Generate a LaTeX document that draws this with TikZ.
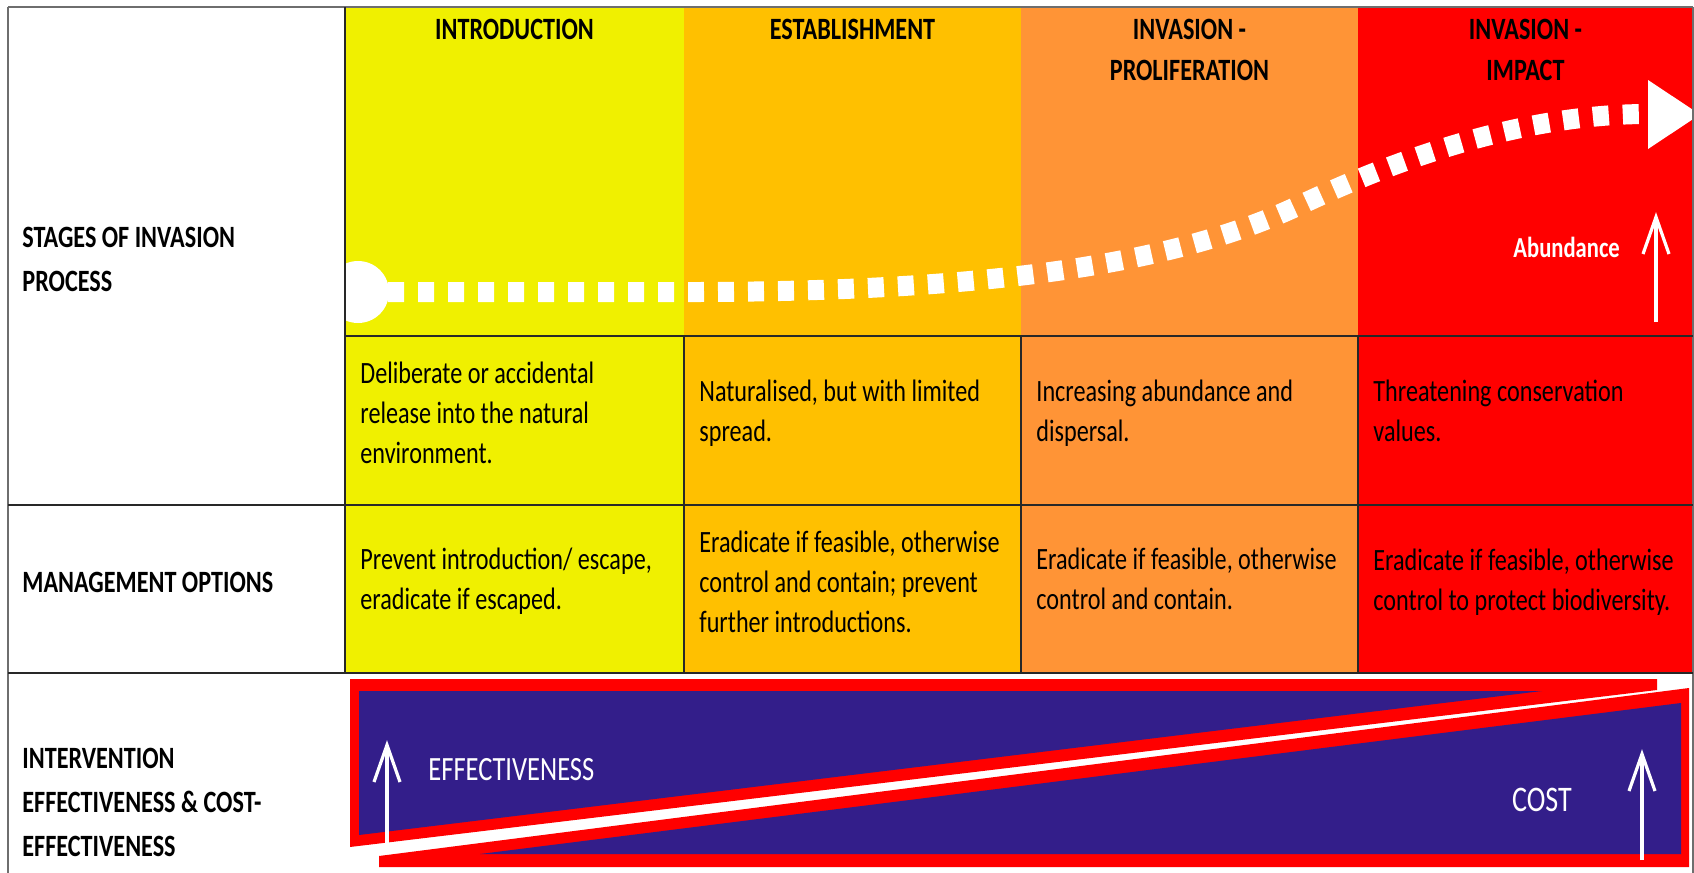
\documentclass[tikz,border=0pt]{standalone}
\usepackage{fontspec}
\setmainfont{Carlito}[FakeStretch=0.78]
\definecolor{cyel}{RGB}{240,240,0}
\definecolor{cgold}{RGB}{255,192,0}
\definecolor{corange}{RGB}{255,148,54}
\definecolor{cred}{RGB}{255,0,0}
\definecolor{cblue}{RGB}{51,30,138}
\definecolor{cline}{RGB}{40,40,40}
\definecolor{cborder}{RGB}{110,110,110}
\begin{document}
\begin{tikzpicture}[x=0.5pt,y=-0.5pt,
  gridline/.style={draw=cline,line width=0.75pt},
  outline/.style={draw=cborder,line width=0.9pt},
  lab/.style={anchor=base west,align=left,inner sep=0pt,font=\fontsize{15.5}{22}\selectfont\bfseries},
  head/.style={anchor=base,align=center,inner sep=0pt,font=\fontsize{15.5}{20.5}\selectfont\bfseries},
  celltext/.style={anchor=base west,align=left,inner sep=0pt,font=\fontsize{15.5}{20}\selectfont},
  uparrow/.style={draw=white,line width=1.6pt},
  dotcurve/.style={draw=white,line width=10pt,dash pattern=on 8pt off 7pt}]
\useasboundingbox (0,0) rectangle (1694,873);
\clip (0,0) rectangle (1694,873);
% cell fills
\fill[cyel] (345,7) rectangle (684,673);
\fill[cgold] (684,7) rectangle (1021,673);
\fill[corange] (1021,7) rectangle (1358,673);
\fill[cred] (1358,7) rectangle (1693,673);
% abundance curve
\coordinate (cstart) at (358,292);
\coordinate (cflat) at (700,292);
\coordinate (cmid) at (1300,205);
\coordinate (cend) at (1648,114);
\draw[dotcurve] (cstart) -- (cflat) .. controls (1000,291) and (1180,262) .. (cmid) .. controls (1360,177) and (1500,114) .. (cend);
\fill[white] (cstart) circle[radius=15.5pt];
\fill[white] (1648,80) -- (1700,114.5) -- (1648,149) -- cycle;
% grid lines
\draw[outline] (8,7) -- (1693,7);
\draw[outline] (8,7) -- (8,873);
\draw[outline] (1693,7) -- (1693,873);
\draw[gridline] (345,7) -- (345,673);
\draw[gridline] (345,336) -- (1693,336);
\draw[gridline] (8,505) -- (1693,505);
\draw[gridline] (8,673) -- (1693,673);
\draw[gridline] (684,336) -- (684,673);
\draw[gridline] (1021,336) -- (1021,673);
\draw[gridline] (1358,336) -- (1358,673);
% bottom wedges
\fill[cred] (350,679) -- (1657,679) -- (1657,690) -- (350,847) -- cycle;
\fill[cblue] (359,691) -- (1542,691) -- (359,835) -- cycle;
\fill[cred] (379,856) -- (1689,688) -- (1689,867) -- (379,867) -- cycle;
\fill[cblue] (480,854) -- (1681,703) -- (1681,854) -- cycle;
% arrows
\draw[uparrow] (387,843) -- (387,745);
\draw[uparrow] (374,782) -- (387,745) -- (400,782);
\draw[uparrow] (1642,860) -- (1642,754);
\draw[uparrow] (1629,791) -- (1642,754) -- (1655,791);
\draw[uparrow] (1656,322) -- (1656,217);
\draw[uparrow] (1643,254) -- (1656,217) -- (1669,254);
% left labels (anchor = baseline of last line)
\node[lab] (lstages) at (22,291) {STAGES OF INVASION\\PROCESS};
\node[lab] (lmgmt) at (22,592) {MANAGEMENT OPTIONS};
\node[lab] (linterv) at (22,856) {INTERVENTION\\EFFECTIVENESS \& COST-\\EFFECTIVENESS};
% headers
\node[head] (h1) at (514.5,39) {INTRODUCTION};
\node[head] (h2) at (852.5,39) {ESTABLISHMENT};
\node[head] (h3) at (1189.5,80) {INVASION -\\PROLIFERATION};
\node[head] (h4) at (1525.5,80) {INVASION -\\IMPACT};
% descriptions
\node[celltext] (d1) at (360,463) {Deliberate or accidental\\release into the natural\\environment.};
\node[celltext] (d2) at (699,441) {Naturalised, but with limited\\spread.};
\node[celltext] (d3) at (1036,441) {Increasing abundance and\\dispersal.};
\node[celltext] (d4) at (1373,441) {Threatening conservation\\values.};
% management
\node[celltext] (m1) at (360,609) {Prevent introduction/ escape,\\eradicate if escaped.};
\node[celltext] (m2) at (699,632) {Eradicate if feasible, otherwise\\control and contain; prevent\\further introductions.};
\node[celltext] (m3) at (1036,609) {Eradicate if feasible, otherwise\\control and contain.};
\node[celltext] (m4) at (1373,610) {Eradicate if feasible, otherwise\\control to protect biodiversity.};
% wedge labels
\node[anchor=west,inner sep=0pt,text=white,font=\fontsize{17}{20}\selectfont] (teff) at (428,770) {EFFECTIVENESS};
\node[inner sep=0pt,text=white,font=\fontsize{18}{20}\selectfont] (tcost) at (1542,800) {COST};
\node[anchor=base west,inner sep=0pt,text=white,font=\fontsize{14.5}{18}\selectfont\bfseries] (tabund) at (1513,257) {Abundance};
\end{tikzpicture}
\end{document}
